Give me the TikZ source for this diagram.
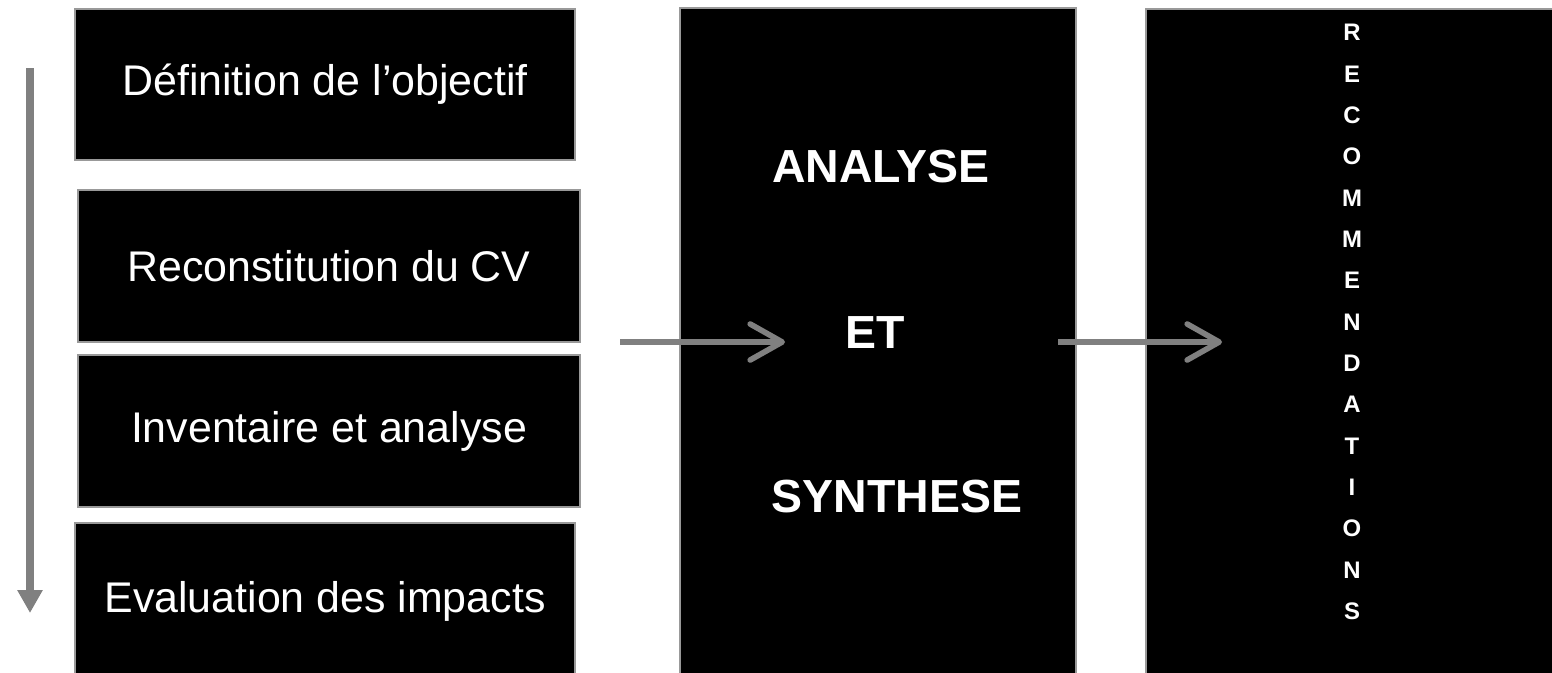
\documentclass[tikz,border=0pt]{standalone}
\usepackage{fontspec}
\setmainfont{Liberation Sans}
\usetikzlibrary{positioning,arrows.meta}

\definecolor{flow}{HTML}{808080}
\definecolor{rim}{HTML}{999999}

\tikzset{
  stage/.style={draw=rim, line width=0.7pt, fill=black, inner sep=0pt},
  stagetext/.style={text=white, font=\fontsize{12.2}{14}\selectfont},
  bigword/.style={text=white, font=\fontsize{13.2}{16}\selectfont\bfseries},
  flowarrow/.style={flow, line width=1.6pt, -{Straight Barb[length=3.2mm, width=3.6mm, round]}},
}

\begin{document}
\begin{tikzpicture}[x=0.01cm, y=-0.01cm, thick]
    \clip (0,0) rectangle (1552,672);
    \useasboundingbox (0,0) rectangle (1552,672);

    % etapes a gauche
    \node [stage, minimum width=5cm, minimum height=1.51cm] (def) at (325,84.5) {};
    \node [stage, minimum width=5.02cm, minimum height=1.52cm] (cv) at (329,266) {};
    \node [stage, minimum width=5.02cm, minimum height=1.52cm] (inv) at (329,431) {};
    \node [stage, minimum width=5cm, minimum height=1.6cm] (eval) at (325,603) {};
    \draw (def.center) node [stagetext] (tdef) {D\'efinition de l’objectif};
    \draw (cv.center) node [stagetext] (tcv) {Reconstitution du CV};
    \draw (inv.center) node [stagetext] (tinv) {Inventaire et analyse};
    \draw (eval.center) ++(0,-2) node [stagetext] (teval) {Evaluation des impacts};

    % fleche verticale
    \coordinate (haut) at (30,68);
    \coordinate (bas) at (30,613);
    \draw [flow, line width=2pt, -{Triangle[length=2.3mm, width=2.4mm]}] (haut) -- (bas);

    % analyse et synthese
    \node [stage, minimum width=3.96cm, minimum height=6.8cm] (ana) at (878,348) {};
    \draw (881,167) node [bigword] (tana) {ANALYSE};
    \draw (875,333) node [bigword] (tet) {ET};
    \draw (897,497) node [bigword] (tsyn) {SYNTHESE};

    % recommandations
    \node [stage, minimum width=4.2cm, minimum height=6.8cm] (rec) at (1356,349) {};
    \draw (1352,322) node [text=white, align=center,
      font=\fontsize{6.8}{11.75}\selectfont\bfseries] (trec)
      {R\\E\\C\\O\\M\\M\\E\\N\\D\\A\\T\\I\\O\\N\\S};

    % fleches
    \coordinate (a1) at (620,342);
    \coordinate (b1) at (785,342);
    \coordinate (a2) at (1058,342);
    \coordinate (b2) at (1222,342);
    \draw [flowarrow] (a1) -- (b1);
    \draw [flowarrow] (a2) -- (b2);
\end{tikzpicture}
\end{document}
